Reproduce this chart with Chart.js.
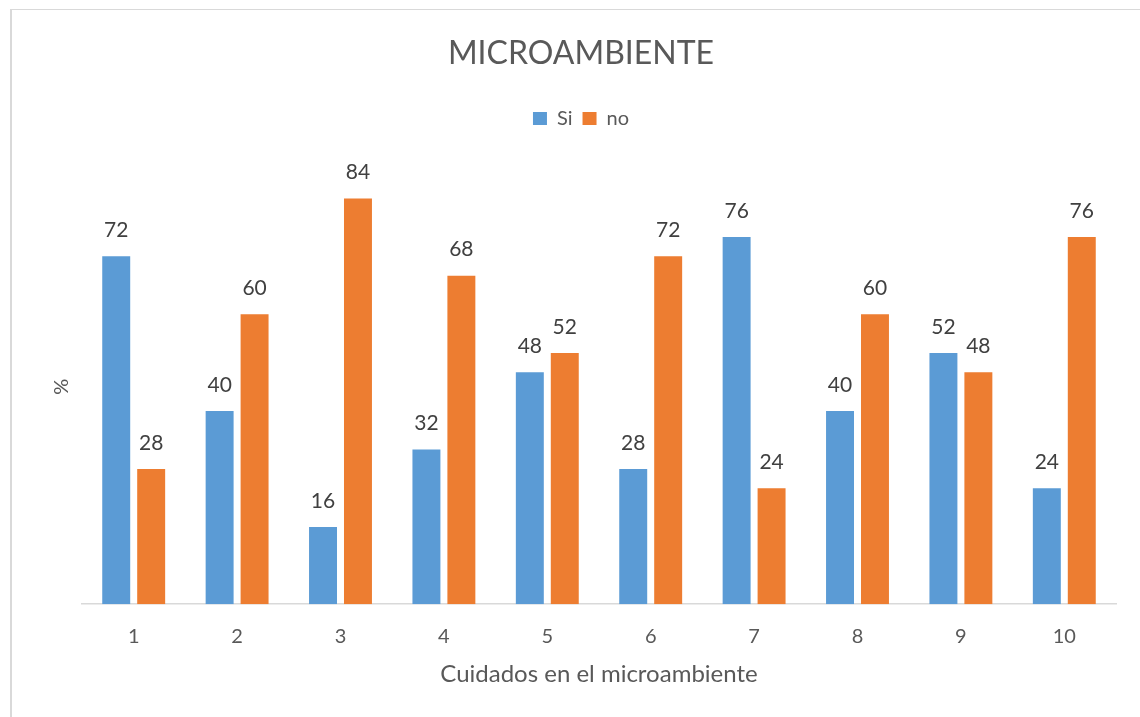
<!DOCTYPE html>
<html>
<head>
<meta charset="utf-8">
<script src="https://cdn.jsdelivr.net/npm/chart.js@4"></script>
<style>
  html, body { margin: 0; padding: 0; background: #fff; }
  #frame { position: absolute; left: 10px; top: 9px; width: 1140px; height: 720px;
           border-top: 1px solid #d9d9d9; border-left: 2px solid #d9d9d9; }
  #wrap { position: absolute; left: 0; top: 0; width: 1140px; height: 717px; }
</style>
</head>
<body>
<div id="frame"></div>
<div id="wrap"><canvas id="chart" width="1140" height="717"></canvas></div>
<script>
const categories = ["1", "2", "3", "4", "5", "6", "7", "8", "9", "10"];
const siValues = [72, 40, 16, 32, 48, 28, 76, 40, 52, 24];
const noValues = [28, 60, 84, 68, 52, 72, 24, 60, 48, 76];

const FONT = "Lato, 'Open Sans', sans-serif";
const GREY = "#595959";

// values above each bar, like Excel's data labels
const barLabels = {
    id: "barLabels",
    afterDatasetsDraw(chart) {
        const ctx = chart.ctx;
        ctx.save();
        ctx.font = `21px ${FONT}`;
        ctx.fillStyle = "#404040";
        ctx.textAlign = "center";
        ctx.textBaseline = "middle";
        chart.data.datasets.forEach((ds, i) => {
            chart.getDatasetMeta(i).data.forEach((bar, j) => {
                ctx.fillText(String(ds.data[j]), bar.x, bar.y - 26);
            });
        });
        ctx.restore();
    }
};

// leave room between legend and plot, as in the original
const legendGap = {
    id: "legendGap",
    beforeInit(chart) {
        const fit = chart.legend.fit;
        chart.legend.fit = function () {
            fit.bind(chart.legend)();
            this.height += 31;
        };
    }
};

new Chart(document.getElementById("chart"), {
    type: "bar",
    data: {
        labels: categories,
        datasets: [
            { label: "Si", data: siValues, backgroundColor: "#5B9BD5" },
            { label: "no", data: noValues, backgroundColor: "#ED7D31" }
        ]
    },
    options: {
        responsive: false,
        animation: false,
        categoryPercentage: 0.676,
        barPercentage: 0.8,
        layout: { padding: { left: 46, right: 24, top: 0, bottom: 28 } },
        plugins: {
            title: {
                display: true,
                text: "MICROAMBIENTE",
                color: GREY,
                font: { family: FONT, size: 32, weight: "normal" },
                padding: { top: 34, bottom: 26 }
            },
            legend: {
                position: "top",
                labels: {
                    color: GREY,
                    boxWidth: 14,
                    boxHeight: 13,
                    padding: 10,
                    font: { family: FONT, size: 20 }
                }
            },
            tooltip: { enabled: false }
        },
        scales: {
            x: {
                grid: { display: false },
                border: { color: "#d9d9d9", width: 1.5 },
                ticks: { color: GREY, padding: 12, font: { family: FONT, size: 20 } },
                title: {
                    display: true,
                    text: "Cuidados en el microambiente",
                    color: GREY,
                    font: { family: FONT, size: 24 },
                    padding: { top: 0, bottom: 0 }
                }
            },
            y: {
                min: 0,
                max: 90,
                ticks: { display: false },
                grid: { display: false },
                border: { display: false },
                title: {
                    display: true,
                    text: "%",
                    color: GREY,
                    font: { family: FONT, size: 20 },
                    padding: { top: 4, bottom: 0 }
                }
            }
        }
    },
    plugins: [barLabels, legendGap]
});
</script>
</body>
</html>
